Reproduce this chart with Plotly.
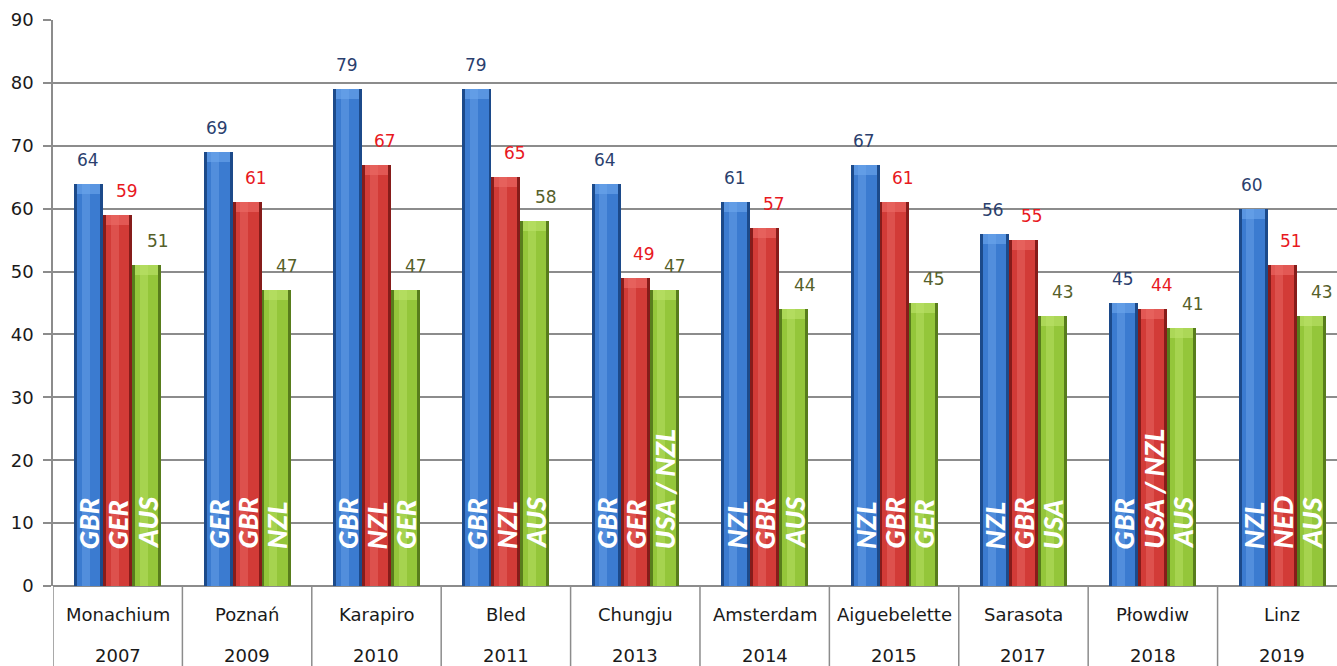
import plotly.graph_objects as go

cities = ["Monachium", "Poznań", "Karapiro", "Bled", "Chungju", "Amsterdam",
          "Aiguebelette", "Sarasota", "Płowdiw", "Linz"]
years = ["2007", "2009", "2010", "2011", "2013", "2014", "2015", "2017", "2018", "2019"]

gold = [64, 69, 79, 79, 64, 61, 67, 56, 45, 60]
silver = [59, 61, 67, 65, 49, 57, 61, 55, 44, 51]
bronze = [51, 47, 47, 58, 47, 44, 45, 43, 41, 43]

gold_c = ["GBR", "GER", "GBR", "GBR", "GBR", "NZL", "NZL", "NZL", "GBR", "NZL"]
silver_c = ["GER", "GBR", "NZL", "NZL", "GER", "GBR", "GBR", "GBR", "USA / NZL", "NED"]
bronze_c = ["AUS", "NZL", "GER", "AUS", "USA / NZL", "AUS", "GER", "USA", "AUS", "AUS"]

W = 0.224
series = [
    dict(vals=gold, labels=gold_c, off=-W, edge="#1c4a8a", main="#3b7bd0", light="#6ea6ec",
         txt="#2b3f6e", xs=-1),
    dict(vals=silver, labels=silver_c, off=0.0, edge="#861c1a", main="#d23b37", light="#ec6d68",
         txt="#e8191e", xs=9),
    dict(vals=bronze, labels=bronze_c, off=W, edge="#587d1c", main="#94c63a", light="#bde36a",
         txt="#55602a", xs=11),
]

n = len(cities)
fig = go.Figure()

for s in series:
    xs = [i + s["off"] for i in range(n)]
    v = s["vals"]
    fig.add_trace(go.Bar(x=xs, y=v, width=W, marker=dict(color=s["edge"], line=dict(width=0)),
                         hoverinfo="skip", showlegend=False))
    fig.add_trace(go.Bar(x=xs, y=v, width=W * 0.8, marker=dict(color=s["main"], line=dict(width=0)),
                         hoverinfo="skip", showlegend=False))
    fig.add_trace(go.Bar(x=[x - W * 0.1 for x in xs], y=v, width=W * 0.28,
                         marker=dict(color=s["light"], opacity=0.45, line=dict(width=0)),
                         hoverinfo="skip", showlegend=False))
    fig.add_trace(go.Bar(x=xs, y=[1.6] * n, base=[val - 1.6 for val in v], width=W * 0.8,
                         marker=dict(color=s["light"], opacity=0.6, line=dict(width=0)),
                         hoverinfo="skip", showlegend=False))

annotations = []
for s in series:
    for i in range(n):
        annotations.append(dict(
            x=i + s["off"], y=s["vals"][i], xref="x", yref="y",
            text=str(s["vals"][i]), showarrow=False, yanchor="bottom", yshift=12,
            xshift=s["xs"], font=dict(family="DejaVu Sans", size=17, color=s["txt"])))
        annotations.append(dict(
            x=i + s["off"], y=0, xref="x", yref="y",
            text=s["labels"][i], showarrow=False, yanchor="bottom", xanchor="center",
            yshift=35, textangle=-90,
            font=dict(family="Lato", size=27, color="white", weight=900, style="italic")))

for i in range(n):
    annotations.append(dict(x=i, y=0, xref="x", yref="paper", text=cities[i], showarrow=False,
                            yanchor="middle", yshift=-28,
                            font=dict(family="DejaVu Sans", size=18, color="#1a1a1a")))
    annotations.append(dict(x=i, y=0, xref="x", yref="paper", text=years[i], showarrow=False,
                            yanchor="middle", yshift=-69,
                            font=dict(family="DejaVu Sans", size=18, color="#1a1a1a")))

shapes = []
for i in range(n + 1):
    shapes.append(dict(type="line", xref="x", yref="paper", x0=i - 0.5, x1=i - 0.5,
                       y0=0, y1=-0.16, line=dict(color="#8c8c8c", width=1.5)))

fig.update_layout(
    width=1337, height=666,
    margin=dict(l=53, r=0, t=20, b=80),
    plot_bgcolor="white", paper_bgcolor="white",
    barmode="overlay", bargap=0,
    showlegend=False,
    annotations=annotations,
    shapes=shapes,
    xaxis=dict(range=[-0.5, 9.423], showticklabels=False, showgrid=False, zeroline=False,
               showline=False, fixedrange=True),
    yaxis=dict(range=[0, 90], dtick=10, showgrid=True, gridcolor="#8c8c8c", gridwidth=1.5,
               zeroline=True, zerolinecolor="#8c8c8c", zerolinewidth=1.5,
               showline=True, linecolor="#8c8c8c", linewidth=1.5,
               ticks="outside", ticklen=8, tickcolor="#8c8c8c", tickwidth=1.5,
               ticklabelstandoff=6,
               tickfont=dict(family="DejaVu Sans", size=18, color="#1a1a1a"), fixedrange=True),
)

fig.write_html("out.html", config={"displayModeBar": False},
               post_script="document.body.style.margin='0';document.body.style.overflow='hidden';")
